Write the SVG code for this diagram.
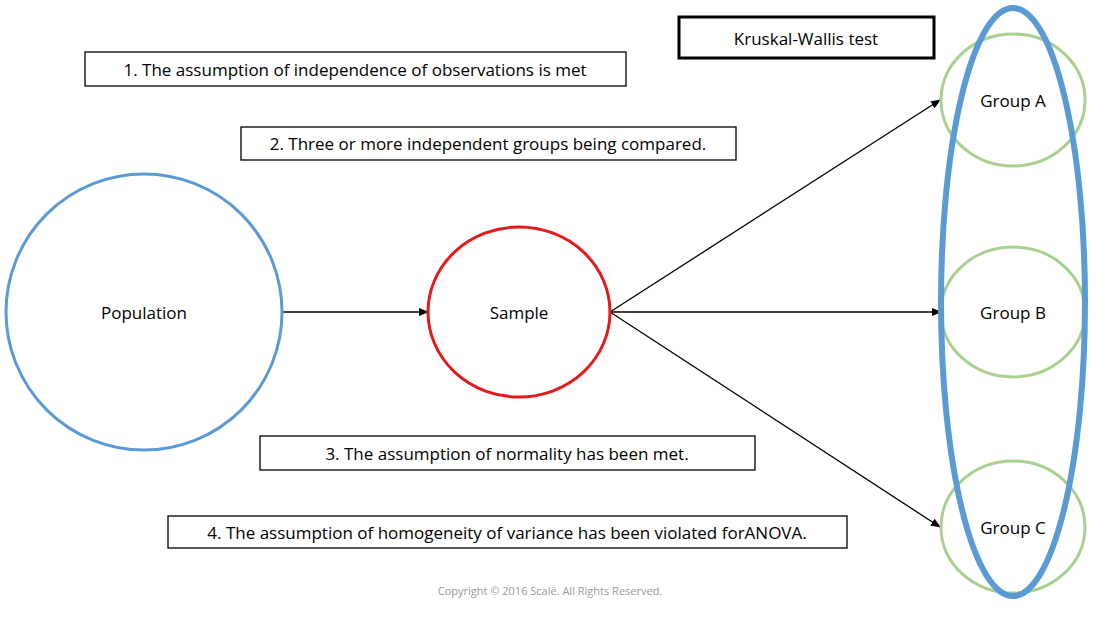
<svg xmlns="http://www.w3.org/2000/svg" width="1100" height="618" viewBox="0 0 1100 618">
<style>
text{font-family:"Open Sans","Liberation Sans",sans-serif;font-size:17px;fill:#000;text-anchor:middle;dominant-baseline:central}
.box{fill:#fff;stroke:#000;stroke-width:1.3}
.g{fill:none;stroke:#a9d18e;stroke-width:3}
.c{stroke:#000;stroke-width:1.3;fill:none;marker-end:url(#a)}
</style>
<defs><marker id="a" markerWidth="10" markerHeight="8" refX="9" refY="4" orient="auto" markerUnits="userSpaceOnUse"><path d="M0,0L10,4L0,8z" fill="#000"/></marker></defs>
<rect width="1100" height="618" fill="#fff"/>
<g id="connectors">
<line class="c" x1="283" y1="312" x2="428" y2="312"/>
<line class="c" x1="610" y1="312" x2="940" y2="100"/>
<line class="c" x1="610" y1="312" x2="941" y2="312"/>
<line class="c" x1="610" y1="312" x2="940" y2="527"/>
</g>
<g id="population"><circle cx="144" cy="312" r="138" fill="none" stroke="#5b9bd5" stroke-width="3"/><text x="144" y="312">Population</text></g>
<g id="sample"><ellipse cx="519" cy="312" rx="91" ry="85" fill="none" stroke="#e41a1c" stroke-width="3"/><text x="519" y="312">Sample</text></g>
<g id="groupA"><ellipse class="g" cx="1013" cy="100" rx="72" ry="66"/><text x="1013" y="100">Group A</text></g>
<g id="groupB"><ellipse class="g" cx="1013" cy="312" rx="72" ry="65"/><text x="1013" y="312">Group B</text></g>
<g id="groupC"><ellipse class="g" cx="1013" cy="527" rx="72" ry="66"/><text x="1013" y="527">Group C</text></g>
<g id="kwEllipse"><ellipse cx="1013" cy="302" rx="72" ry="294" fill="none" stroke="#5b9bd5" stroke-width="6"/></g>
<g id="kw"><rect x="679" y="17" width="255" height="41" fill="#fff" stroke="#000" stroke-width="3"/><text x="806" y="38">Kruskal-Wallis test</text></g>
<g id="a1"><rect class="box" x="85" y="52" width="541" height="34"/><text x="355" y="69">1. The assumption of independence of observations is met</text></g>
<g id="a2"><rect class="box" x="241" y="127" width="495" height="33"/><text x="488" y="143">2. Three or more independent groups being compared.</text></g>
<g id="a3"><rect class="box" x="260" y="436" width="495" height="34"/><text x="507" y="453">3. The assumption of normality has been met.</text></g>
<g id="a4"><rect class="box" x="168" y="516" width="679" height="32"/><text x="507" y="532">4. The assumption of homogeneity of variance has been violated forANOVA.</text></g>
<text x="550" y="590" style="font-size:11px;fill:#999">Copyright © 2016 Scalë. All Rights Reserved.</text>
</svg>
